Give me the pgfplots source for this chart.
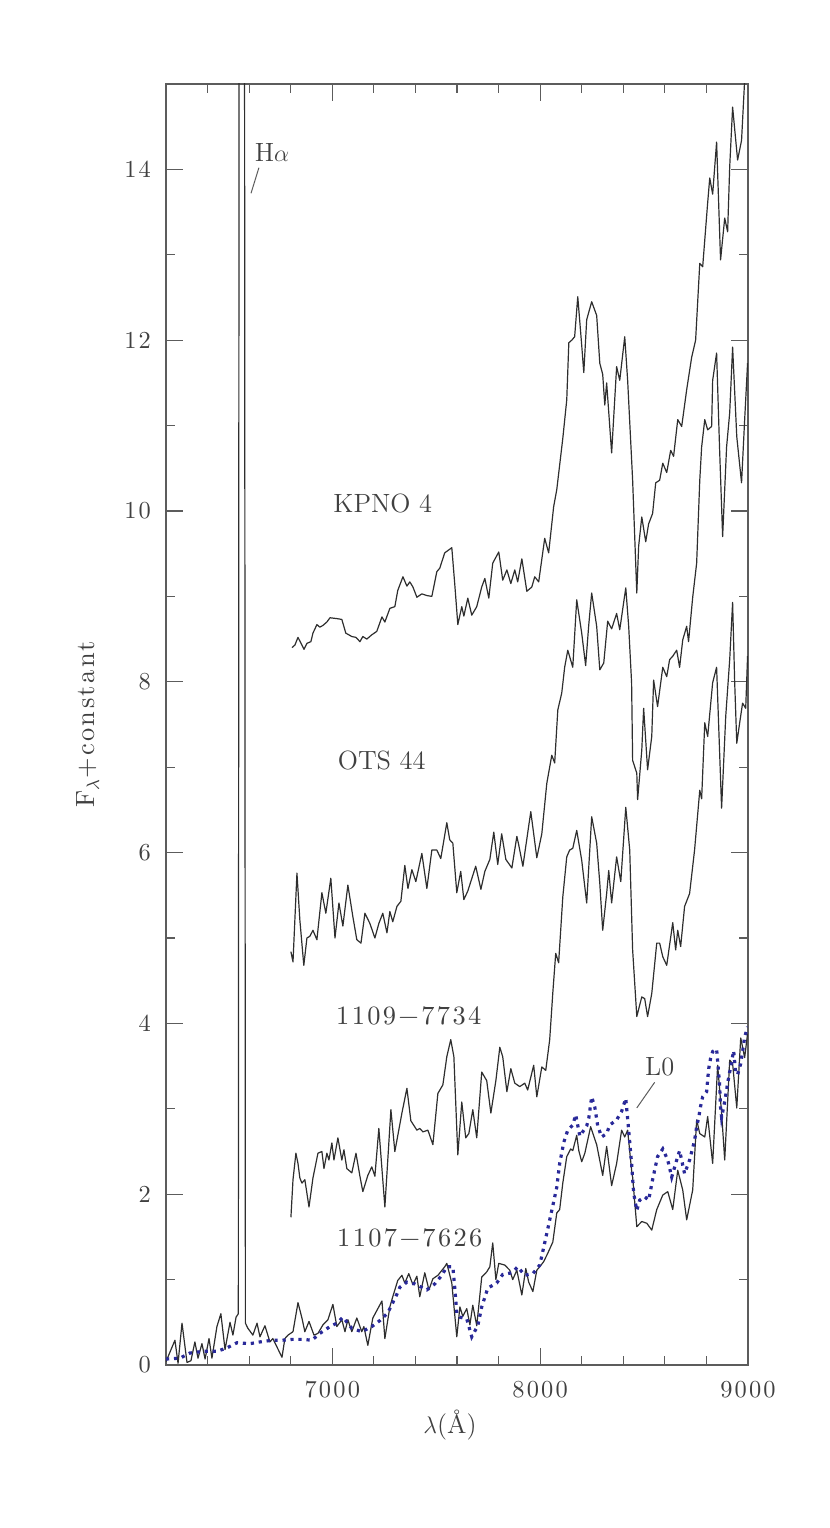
\documentclass[border=0pt]{standalone}
\usepackage{fontspec}
\usepackage{pgfplots}
\pgfplotsset{compat=1.18}
\newfontfamily\spacedfam{lmroman10-regular.otf}[LetterSpace=9]
\definecolor{axgray}{rgb}{0.36,0.36,0.36}
\definecolor{txtgray}{rgb}{0.25,0.25,0.25}
\definecolor{spec}{rgb}{0.18,0.18,0.18}
\definecolor{dotblue}{rgb}{0.16,0.16,0.6}
\newcommand{\tickfont}{\spacedfam\fontsize{12.2}{14}\selectfont}
\newcommand{\numfont}{\spacedfam\fontsize{13.2}{15}\selectfont}
\newcommand{\lblfont}{\fontsize{13.2}{15}\selectfont}
\begin{document}
\begin{tikzpicture}
\useasboundingbox (0,0) rectangle (415pt,764pt);
\begin{axis}[
  at={(83pt,81.5pt)}, anchor=south west,
  scale only axis, width=291pt, height=640.5pt,
  xmin=6200, xmax=9000, ymin=0, ymax=15,
  xtick={7000,8000,9000}, minor xtick={6200,6400,...,9000},
  ytick={0,2,...,14}, minor ytick={1,3,...,15},
  tick align=inside,
  major tick length=8.5pt, minor tick length=4.5pt,
  axis line style={axgray, line width=0.6pt},
  tick style={axgray, line width=0.6pt},
  /pgf/number format/assume math mode=true,
  /pgf/number format/1000 sep={},
  scaled x ticks=false,
  xticklabel style={font=\tickfont, text=txtgray, yshift=-4.5pt},
  yticklabel style={font=\tickfont, text=txtgray, xshift=-4pt},
  xlabel={$\lambda$(\AA)},
  ylabel={F$_\lambda$+constant},
  xlabel style={font=\lblfont, text=txtgray, at={(axis description cs:0.488,-0.047)}, anchor=center},
  ylabel style={font=\numfont, text=txtgray, at={(axis description cs:-0.134,0.5)}, anchor=center},
  clip=true,
]
% 1107-7626 (with H alpha)
\addplot[spec, line width=0.6pt, line join=round] coordinates {
(6200,0.04) (6243,0.29) (6258,0.02) (6277,0.49) (6301,0.03) (6320,0.05) (6339,0.27) (6354,0.08)
(6373,0.25) (6388,0.07) (6407,0.31) (6421,0.08) (6445,0.45) (6464,0.60) (6484,0.18) (6508,0.50)
(6522,0.35) (6537,0.56) (6548,0.6) (6555,30) (6574,30) (6582,0.49)
(6594,0.43) (6618,0.35) (6638,0.49) (6652,0.33) (6676,0.46) (6700,0.27) (6714,0.31) (6758,0.09)
(6772,0.31) (6787,0.35) (6811,0.39) (6835,0.73) (6854,0.55) (6868,0.39) (6888,0.51) (6912,0.35)
(6931,0.37) (6955,0.47) (6979,0.53) (7003,0.71) (7022,0.45) (7046,0.53) (7061,0.39) (7075,0.53)
(7094,0.39) (7118,0.55) (7142,0.39) (7152,0.45) (7171,0.23) (7195,0.55) (7239,0.75) (7253,0.31)
(7277,0.68) (7291,0.80) (7315,0.99) (7335,1.05) (7349,0.96) (7368,1.07) (7388,0.94) (7407,1.04)
(7421,0.80) (7445,1.08) (7465,0.88) (7484,1.01) (7508,1.05) (7541,1.15) (7551,1.19) (7575,0.96)
(7599,0.33) (7614,0.68) (7628,0.57) (7647,0.66) (7662,0.47) (7676,0.70) (7695,0.46) (7719,1.03)
(7743,1.09) (7758,1.15) (7772,1.43) (7787,1.00) (7801,1.19) (7830,1.17) (7854,1.11) (7868,1.00)
(7888,1.11) (7912,0.82) (7931,1.13) (7945,0.97) (7965,0.86) (7984,1.11) (7998,1.15) (8017,1.21)
(8037,1.31) (8061,1.44) (8080,1.78) (8094,1.82) (8109,2.13) (8128,2.44) (8147,2.53) (8157,2.51)
(8176,2.69) (8186,2.51) (8200,2.38) (8215,2.48) (8243,2.79) (8272,2.58) (8301,2.22) (8320,2.56)
(8344,2.10) (8368,2.36) (8392,2.75) (8407,2.67) (8421,2.75) (8440,2.28) (8445,2.20) (8465,1.62)
(8489,1.68) (8513,1.66) (8537,1.58) (8561,1.82) (8590,1.99) (8614,2.03) (8638,1.82) (8662,2.28)
(8686,2.05) (8705,1.70) (8734,2.05) (8753,2.87) (8768,2.71) (8792,2.67) (8806,2.91) (8830,2.36)
(8854,3.51) (8873,2.95) (8888,2.40) (8912,3.57) (8926,3.53) (8946,3.01) (8965,3.83) (8984,3.60)
(8998,3.88)
};
% L0 template (dotted)
\addplot[dotblue, line width=1.6pt, dash pattern=on 1.6pt off 2.4pt] coordinates {
(6200,0.07) (6267,0.08) (6315,0.14) (6378,0.16) (6445,0.16) (6493,0.20) (6541,0.26) (6604,0.25)
(6652,0.27) (6710,0.29) (6758,0.29) (6806,0.30) (6859,0.30) (6902,0.29) (6940,0.37) (6989,0.45)
(7022,0.49) (7051,0.56) (7094,0.43) (7142,0.39) (7190,0.45) (7229,0.52) (7267,0.61) (7291,0.73)
(7311,0.83) (7325,0.91) (7359,0.97) (7397,0.95) (7455,0.88) (7493,0.95) (7527,1.05) (7551,1.15)
(7580,1.15) (7589,0.91) (7599,0.61) (7614,0.56) (7647,0.54) (7671,0.33) (7700,0.46) (7719,0.68)
(7748,0.90) (7791,0.96) (7820,1.06) (7864,1.08) (7892,1.15) (7926,1.05) (7965,1.07) (7998,1.17)
(8022,1.43) (8056,1.81) (8080,2.08) (8094,2.36) (8114,2.61) (8133,2.75) (8157,2.81) (8171,2.93)
(8191,2.68) (8224,2.80) (8234,2.89) (8248,3.14) (8263,3.02) (8277,2.80) (8296,2.67) (8320,2.71)
(8335,2.81) (8368,2.87) (8392,2.97) (8412,3.12) (8426,2.75) (8440,2.36) (8450,2.01) (8465,1.81)
(8479,1.93) (8503,1.97) (8522,1.93) (8541,2.17) (8565,2.44) (8590,2.53) (8614,2.40) (8633,2.20)
(8657,2.40) (8671,2.51) (8695,2.24) (8719,2.40) (8743,2.63) (8753,2.79) (8763,2.90) (8772,3.03)
(8782,3.14) (8801,3.20) (8806,3.34) (8811,3.47) (8820,3.59) (8830,3.67) (8849,3.70) (8863,3.30)
(8868,3.02) (8873,2.90) (8883,3.02) (8893,3.16) (8902,3.30) (8921,3.55) (8931,3.68) (8941,3.42)
(8950,3.40) (8965,3.53) (8974,3.67) (8984,3.84) (8998,3.96)
};
% 1109-7734
\addplot[spec, line width=0.6pt, line join=round] coordinates {
(6801,1.73) (6811,2.17) (6825,2.48) (6835,2.36) (6844,2.19) (6854,2.13) (6868,2.17) (6888,1.85)
(6907,2.19) (6931,2.48) (6950,2.50) (6960,2.30) (6974,2.48) (6984,2.40) (6998,2.60) (7008,2.40)
(7027,2.66) (7046,2.40) (7056,2.52) (7070,2.30) (7094,2.25) (7114,2.48) (7133,2.21) (7147,2.03)
(7171,2.22) (7190,2.32) (7205,2.21) (7224,2.77) (7253,1.85) (7282,2.99) (7301,2.50) (7335,2.95)
(7359,3.24) (7378,2.86) (7407,2.75) (7421,2.77) (7436,2.73) (7460,2.75) (7484,2.58) (7508,3.18)
(7532,3.28) (7551,3.61) (7570,3.81) (7585,3.61) (7604,2.46) (7623,3.08) (7642,2.66) (7657,2.71)
(7676,2.99) (7695,2.66) (7719,3.43) (7743,3.33) (7763,2.95) (7787,3.33) (7806,3.72) (7820,3.61)
(7840,3.20) (7859,3.47) (7878,3.30) (7902,3.26) (7926,3.30) (7940,3.22) (7969,3.51) (7984,3.14)
(8008,3.49) (8027,3.45) (8046,3.81) (8061,4.36) (8075,4.82) (8089,4.71) (8109,5.48) (8128,5.95)
(8142,6.03) (8157,6.05) (8176,6.26) (8200,5.91) (8224,5.41) (8248,6.42) (8272,6.11) (8287,5.64)
(8301,5.09) (8320,5.52) (8330,5.79) (8344,5.41) (8368,5.95) (8388,5.66) (8412,6.53) (8431,6.03)
(8445,4.86) (8465,4.08) (8489,4.31) (8503,4.29) (8517,4.08) (8537,4.35) (8561,4.94) (8575,4.94)
(8590,4.78) (8609,4.68) (8638,5.18) (8652,4.86) (8662,5.09) (8676,4.90) (8695,5.37) (8719,5.52)
(8743,6.03) (8768,6.73) (8777,6.63) (8792,7.52) (8806,7.36) (8830,7.99) (8849,8.17) (8873,6.52)
(8893,7.60) (8912,8.26) (8926,8.93) (8936,7.99) (8946,7.28) (8960,7.52) (8974,7.75) (8989,7.69)
(8998,8.30)
};
% OTS 44
\addplot[spec, line width=0.6pt, line join=round] coordinates {
(6801,4.84) (6811,4.72) (6830,5.76) (6844,5.21) (6863,4.68) (6878,5.00) (6892,5.02) (6907,5.09)
(6926,4.98) (6950,5.53) (6969,5.29) (6993,5.70) (7013,5.00) (7032,5.41) (7051,5.14) (7075,5.62)
(7099,5.25) (7118,4.98) (7138,4.94) (7157,5.29) (7181,5.17) (7205,5.00) (7224,5.17) (7243,5.29)
(7263,5.06) (7277,5.31) (7291,5.19) (7311,5.37) (7330,5.43) (7349,5.85) (7364,5.58) (7383,5.80)
(7402,5.66) (7431,5.99) (7455,5.58) (7479,6.03) (7503,6.03) (7522,5.93) (7551,6.35) (7565,6.15)
(7580,6.11) (7599,5.53) (7618,5.78) (7633,5.45) (7652,5.55) (7690,5.84) (7715,5.57) (7734,5.78)
(7758,5.92) (7777,6.24) (7796,5.86) (7815,6.22) (7835,5.92) (7864,5.82) (7888,6.19) (7897,6.09)
(7917,5.84) (7955,6.48) (7984,5.94) (8008,6.22) (8032,6.81) (8056,7.14) (8070,7.05) (8085,7.67)
(8104,7.87) (8118,8.17) (8133,8.37) (8157,8.17) (8176,8.96) (8200,8.57) (8219,8.19) (8234,8.67)
(8248,9.04) (8272,8.65) (8287,8.14) (8306,8.22) (8325,8.71) (8344,8.62) (8368,8.80) (8383,8.61)
(8412,9.10) (8426,8.65) (8440,7.99) (8445,7.08) (8465,6.93) (8469,6.62) (8489,7.20) (8498,7.69)
(8517,6.97) (8537,7.36) (8546,8.02) (8565,7.71) (8590,8.17) (8609,8.06) (8623,8.26) (8638,8.30)
(8657,8.37) (8671,8.17) (8686,8.49) (8705,8.65) (8714,8.47) (8734,8.99) (8753,9.39) (8768,10.36)
(8777,10.75) (8792,11.07) (8806,10.95) (8825,10.99) (8830,11.53) (8849,11.85) (8863,10.75) (8878,9.70)
(8897,10.75) (8912,11.15) (8926,11.92) (8946,10.87) (8969,10.33) (8984,11.07) (8998,11.73)
};
% KPNO 4
\addplot[spec, line width=0.6pt, line join=round] coordinates {
(6806,8.40) (6820,8.43) (6835,8.52) (6854,8.43) (6864,8.38) (6878,8.45) (6897,8.47) (6907,8.57)
(6926,8.67) (6940,8.64) (6955,8.66) (6974,8.70) (6989,8.75) (7022,8.74) (7046,8.73) (7065,8.57)
(7094,8.53) (7114,8.52) (7133,8.47) (7147,8.53) (7166,8.50) (7190,8.55) (7214,8.59) (7239,8.76)
(7253,8.70) (7277,8.86) (7301,8.88) (7315,9.07) (7340,9.23) (7359,9.12) (7373,9.17) (7388,9.11)
(7407,8.99) (7431,9.03) (7455,9.01) (7479,9.00) (7503,9.29) (7517,9.33) (7541,9.51) (7575,9.57)
(7589,9.15) (7604,8.67) (7623,8.88) (7633,8.77) (7652,8.98) (7671,8.78) (7695,8.88) (7719,9.11)
(7734,9.21) (7753,8.98) (7772,9.39) (7801,9.52) (7820,9.19) (7840,9.31) (7859,9.15) (7878,9.31)
(7892,9.17) (7912,9.44) (7936,9.06) (7960,9.11) (7974,9.23) (7993,9.17) (8022,9.68) (8041,9.51)
(8065,10.05) (8080,10.25) (8109,10.85) (8128,11.30) (8138,11.97) (8152,12.00) (8166,12.04) (8181,12.51)
(8200,11.94) (8210,11.62) (8224,12.24) (8248,12.45) (8272,12.29) (8287,11.73) (8301,11.60) (8311,11.24)
(8320,11.50) (8344,10.68) (8368,11.69) (8383,11.53) (8407,12.04) (8421,11.53) (8445,10.36) (8465,9.04)
(8474,9.59) (8489,9.93) (8508,9.64) (8522,9.85) (8541,9.97) (8556,10.33) (8575,10.36) (8590,10.56)
(8609,10.45) (8628,10.71) (8642,10.64) (8662,11.07) (8681,10.99) (8705,11.42) (8729,11.80) (8748,12.00)
(8768,12.90) (8782,12.86) (8806,13.61) (8816,13.90) (8830,13.71) (8849,14.32) (8868,12.94) (8888,13.43)
(8902,13.27) (8912,14.03) (8926,14.73) (8950,14.11) (8969,14.34) (8984,15.05) (8998,15.6)
};
% annotations
\node[font=\lblfont, text=txtgray] at (axis cs:7243,10.09) {KPNO 4};
\node[font=\lblfont, text=txtgray] at (axis cs:7238,7.08) {OTS 44};
\node[font=\numfont, text=txtgray] at (axis cs:7368,4.09) {1109\textminus7734};
\node[font=\numfont, text=txtgray] at (axis cs:7373,1.49) {1107\textminus7626};
\node[font=\lblfont, text=txtgray] at (axis cs:6710,14.20) {H$\alpha$};
\node[font=\lblfont, text=txtgray] at (axis cs:8575,3.49) {L0};
\draw[axgray, line width=0.5pt] (axis cs:6647,14.02) -- (axis cs:6609,13.72);
\draw[axgray, line width=0.5pt] (axis cs:8551,3.31) -- (axis cs:8465,3.01);
\end{axis}
\end{tikzpicture}
\end{document}
